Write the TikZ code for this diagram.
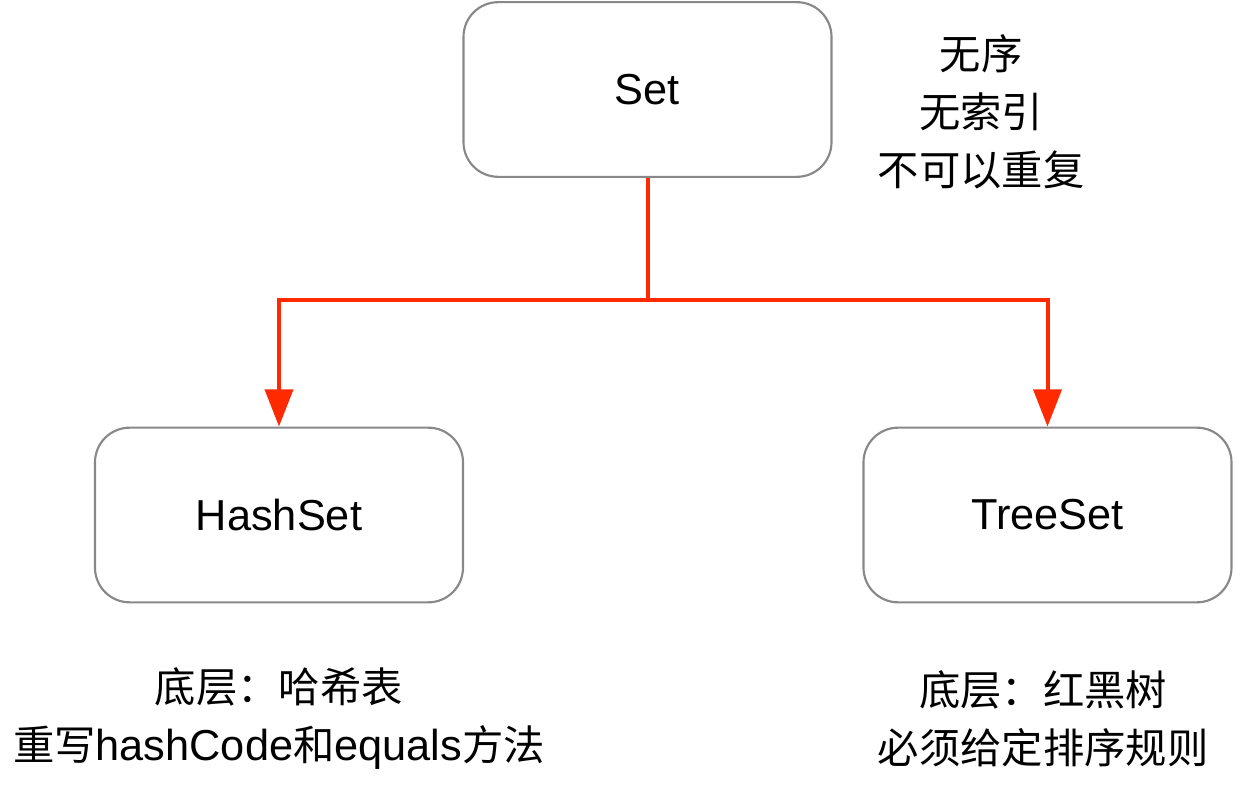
\documentclass[tikz,border=0pt]{standalone}
\usepackage{fontspec}
\setmainfont{Liberation Sans}
\newfontfamily\cjk{Noto Sans CJK SC}
\usetikzlibrary{arrows.meta}
\definecolor{boxgray}{HTML}{888888}
\definecolor{linkred}{HTML}{FF2A00}

\begin{document}
\begin{tikzpicture}[x=0.75pt,y=-0.75pt,
  box/.style={draw=boxgray,line width=1.6pt,rounded corners=26pt,
    minimum width=276pt,minimum height=131pt,inner sep=0pt,
    font=\fontsize{32.5}{38}\selectfont},
  note/.style={align=center,font=\fontsize{31}{43.5}\selectfont\cjk},
  link/.style={draw=linkred,line width=3pt},
  every node/.style={text=black}]

\useasboundingbox (0,0) rectangle (1236,791);

% boxes
\node[box] (set)  at (647.5,89.5) {Set};
\node[box] (hash) at (279,515)    {HashSet};
\node[box] (tree) at (1047.5,515) {TreeSet};

% notes
\node[note] (setnote)  at (981,112) {无序\\无索引\\不可以重复};
\node[note] (hashnote) at (279,719) {底层：哈希表\\重写{\fontsize{32.5}{43.5}\selectfont\rmfamily hashCode}和{\fontsize{32.5}{43.5}\selectfont\rmfamily equals}方法};
\node[note] (treenote) at (1043,719) {底层：红黑树\\必须给定排序规则};

% links
\coordinate (level) at (0,300);
\coordinate (split) at (set.south |- level);
\draw[link] (set.south) -- (split);
\draw[link,-{Triangle[length=28pt,width=21pt]}] (split) -| (hash.north);
\draw[link,-{Triangle[length=28pt,width=21pt]}] (split) -| (tree.north);
\end{tikzpicture}
\end{document}
